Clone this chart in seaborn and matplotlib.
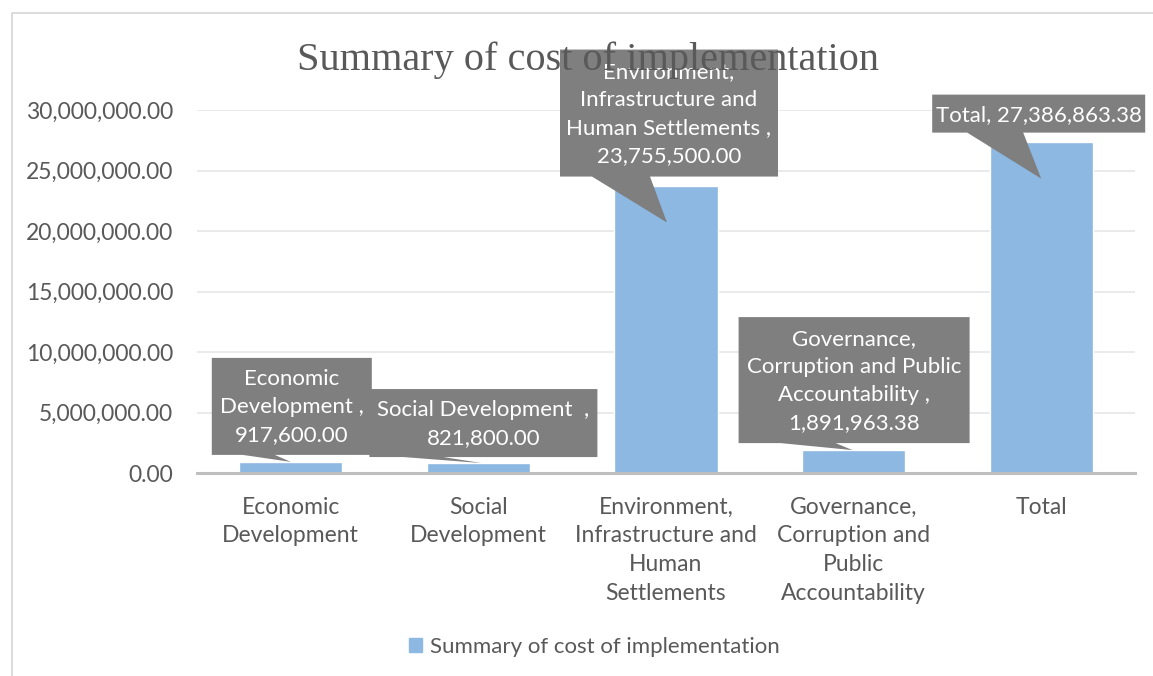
import matplotlib
matplotlib.use("Agg")
import matplotlib.pyplot as plt
import matplotlib.transforms as mtransforms
from matplotlib.patches import Patch, Polygon
from matplotlib.lines import Line2D
from matplotlib.ticker import FuncFormatter, MultipleLocator
import seaborn as sns
import pandas as pd

# ---- data ----
categories = ["Economic Development", "Social Development",
              "Environment, Infrastructure and Human Settlements",
              "Governance, Corruption and Public Accountability", "Total"]
values = [917600.00, 821800.00, 23755500.00, 1891963.38, 27386863.38]
tick_labels = ["Economic\nDevelopment", "Social\nDevelopment",
               "Environment,\nInfrastructure and\nHuman\nSettlements",
               "Governance,\nCorruption and\nPublic\nAccountability", "Total"]
callout_names = ["Economic\nDevelopment ,\n", "Social Development  ,\n",
                 "Environment,\nInfrastructure and\nHuman Settlements ,\n",
                 "Governance,\nCorruption and Public\nAccountability ,\n",
                 "Total, "]
series_name = "Summary of cost of implementation"
title = "Summary of cost of implementation"

# ---- style ----
sns.set_theme(style="white")
plt.rcParams["font.family"] = ["Lato", "DejaVu Sans"]
TXT = "#595959"
BAR = "#8CB8E2"
CALL = "#7F7F7F"
FS = 16.5
FS_CALL = 16
LS = 1.45

W, H = 1153, 676
fig = plt.figure(figsize=(W / 100, H / 100), dpi=100)
# chart-area frame (left and top edges visible)
fig.lines.append(Line2D([12 / W, 12 / W, 1.0], [0.0, 1 - 13 / H, 1 - 13 / H],
                        transform=fig.transFigure, color="#D9D9D9", lw=1.3))
ax = fig.add_axes([197 / W, 1 - 473 / H, (1135 - 197) / W, (473 - 110) / H])

df = pd.DataFrame({"category": categories, "value": values})
sns.barplot(data=df, x="category", y="value", color=BAR, saturation=1,
            width=0.55, ax=ax, zorder=2)

ax.set_xlim(-0.5, len(categories) - 0.5)
ax.set_ylim(0, 30000000)
ax.yaxis.set_major_locator(MultipleLocator(5000000))
ax.yaxis.set_major_formatter(FuncFormatter(lambda v, p: f"{v:,.2f}"))
ax.set_xticks(range(len(categories)))
ax.set_xticklabels(tick_labels, linespacing=LS)
ax.set_xlabel("")
ax.set_ylabel("")
ax.grid(axis="y", color="#E8E8E8", lw=1.3, zorder=0)
ax.set_axisbelow(True)
for s in ["top", "left", "right"]:
    ax.spines[s].set_visible(False)
ax.spines["bottom"].set_color("#BFBFBF")
ax.spines["bottom"].set_linewidth(2.2)
ax.tick_params(axis="both", length=0, labelsize=FS, labelcolor=TXT)
ax.tick_params(axis="y", pad=17)
ax.tick_params(axis="x", pad=17)

# ---- callouts (geometry in pixels relative to the pointer tip) ----
tip_off = [(0, 0), (3, 0), (1, -37), (-1, 0), (0, -37)]
box_lrbt = [(-79, 81, 7, 104), (-112, 116, 6, 74), (-107, 111, 46, 173),
            (-114, 117, 7, 133), (-109, 104, 46, 84)]
base_x = [(-48, -16), (-78, -38), (-75, -17), (-72, -17), (-74, -18)]
for i, (name, v) in enumerate(zip(callout_names, values)):
    anchor = mtransforms.ScaledTranslation(i, v, ax.transData)
    tr = mtransforms.Affine2D().translate(*tip_off[i]) + anchor
    l, r, b, t = box_lrbt[i]
    bx0, bx1 = base_x[i]
    ax.add_patch(Polygon([(l, b), (bx0, b), (0, 0), (bx1, b), (r, b), (r, t), (l, t)],
                         closed=True, transform=tr, fc=CALL, ec="none",
                         zorder=5, clip_on=False))
    ax.text((l + r) / 2, (b + t) / 2 - 1, f"{name}{v:,.2f}", transform=tr,
            ha="center", va="center", multialignment="center",
            fontsize=FS_CALL, color="white", linespacing=LS * FS / FS_CALL,
            zorder=6, clip_on=False)

fig.text(588 / W, 1 - 70 / H, title, ha="center", va="baseline",
         fontsize=29, color=TXT, family="Liberation Serif", zorder=10)

fig.legend(handles=[Patch(color=BAR, label=series_name)], loc="center",
           bbox_to_anchor=(594 / W, 1 - 647 / H), frameon=False, fontsize=16,
           labelcolor=TXT, handlelength=0.6, handleheight=0.6, handletextpad=0.35)

fig.savefig("out.png", dpi=100)
